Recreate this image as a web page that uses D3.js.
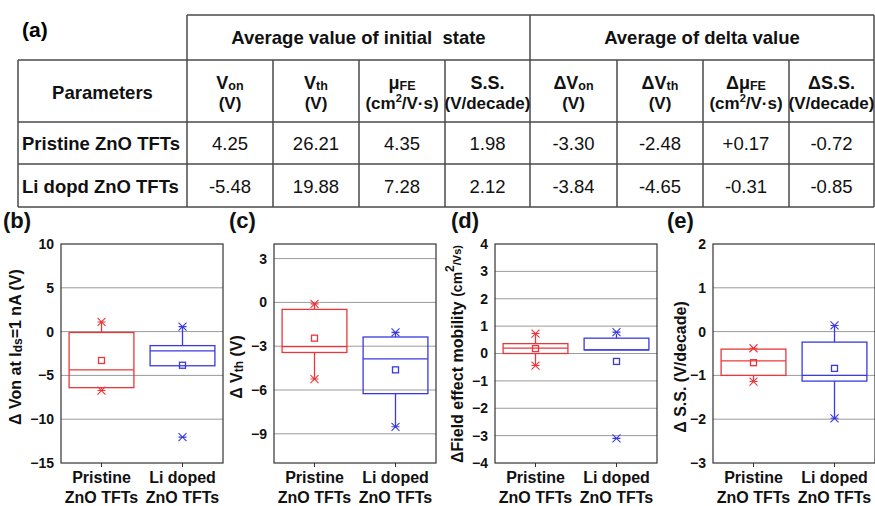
<!DOCTYPE html>
<html>
<head>
<meta charset="utf-8">
<script src="https://cdn.jsdelivr.net/npm/d3@7"></script>
<style>
body { margin: 0; background: #fff; }
svg { display: block; font-family: "Liberation Sans", Arial, sans-serif; }
</style>
</head>
<body>
<svg id="fig" width="875" height="506"></svg>
<script>
// ---- table data (a) ----
var groupHeads = ["Average value of initial  state", "Average of delta value"];
var colHeads = [
	["V", "on", "(V)"], ["V", "th", "(V)"], ["\u03bc", "FE", "cm2"], ["S.S.", "", "(V/decade)"],
	["\u0394V", "on", "(V)"], ["\u0394V", "th", "(V)"], ["\u0394\u03bc", "FE", "cm2"], ["\u0394S.S.", "", "(V/decade)"]
];
var rowNames = ["Pristine ZnO TFTs", "Li dopd ZnO TFTs"];
var rowValues = [
	["4.25", "26.21", "4.35", "1.98", "-3.30", "-2.48", "+0.17", "-0.72"],
	["-5.48", "19.88", "7.28", "2.12", "-3.84", "-4.65", "-0.31", "-0.85"]
];

// ---- box plot data (b)-(e) ----
var categories = ["Pristine ZnO TFTs", "Li doped ZnO TFTs"];
// each: q1, median, q3, whisker low, whisker high, mean, star markers (min/max/outliers)
var vonBoxes = [
	{q1: -6.4, med: -4.37, q3: -0.1, lo: -6.6, hi: 1.1, mean: -3.3, stars: [1.1, -6.73]},
	{q1: -3.9, med: -2.2, q3: -1.6, lo: -3.9, hi: 0.57, mean: -3.84, stars: [0.57, -12.05]}
];
var vthBoxes = [
	{q1: -3.43, med: -3.03, q3: -0.48, lo: -5.25, hi: -0.1, mean: -2.45, stars: [-0.1, -5.25]},
	{q1: -6.25, med: -3.87, q3: -2.37, lo: -8.52, hi: -2.05, mean: -4.62, stars: [-2.05, -8.52]}
];
var mobBoxes = [
	{q1: 0.0, med: 0.2, q3: 0.36, lo: -0.44, hi: 0.73, mean: 0.18, stars: [0.73, -0.44]},
	{q1: 0.13, med: 0.13, q3: 0.56, lo: 0.13, hi: 0.72, mean: -0.29, stars: [0.78, -3.1]}
];
var ssBoxes = [
	{q1: -1.0, med: -0.67, q3: -0.4, lo: -1.14, hi: -0.38, mean: -0.71, stars: [-0.38, -1.14]},
	{q1: -1.13, med: -1.0, q3: -0.24, lo: -1.98, hi: 0.14, mean: -0.84, stars: [0.14, -1.98]}
];
var vonTicks = [10, 5, 0, -5, -10, -15];
var vthTicks = [3, 0, -3, -6, -9];
var mobTicks = [4, 3, 2, 1, 0, -1, -2, -3, -4];
var ssTicks = [2, 1, 0, -1, -2, -3];

var red = "#e8383c", blue = "#3a3ae0";
var colors = [red, blue];

var svg = d3.select("#fig");

// ================= table =================
var tbl = svg.append("g").attr("class", "table");
var colX = [18, 187, 273, 359, 445, 530, 617, 703, 789, 874];
var rowY = [15, 60, 122, 164, 207];
var lineColor = "#4a4a4a";

function hline(x1, x2, y) {
	tbl.append("line").attr("x1", x1).attr("x2", x2).attr("y1", y).attr("y2", y)
		.attr("stroke", lineColor).attr("stroke-width", 1.5);
}
function vline(x, y1, y2) {
	tbl.append("line").attr("x1", x).attr("x2", x).attr("y1", y1).attr("y2", y2)
		.attr("stroke", lineColor).attr("stroke-width", 1.5);
}
hline(colX[1], colX[9], rowY[0]);
for (var i = 1; i < rowY.length; i++) hline(colX[0], colX[9], rowY[i]);
vline(colX[0], rowY[1], rowY[4]);
vline(colX[1], rowY[0], rowY[4]);
vline(colX[5], rowY[0], rowY[4]);
vline(colX[9], rowY[0], rowY[4]);
[2, 3, 4, 6, 7, 8].forEach(function(c) { vline(colX[c], rowY[1], rowY[4]); });

svg.append("text").attr("x", 22).attr("y", 37).attr("font-size", 21).attr("font-weight", "bold").text("(a)");

groupHeads.forEach(function(h, i) {
	var x0 = colX[1 + i * 4], x1 = colX[5 + i * 4];
	tbl.append("text").attr("x", (x0 + x1) / 2).attr("y", 44)
		.attr("text-anchor", "middle").attr("font-size", 18.5).attr("font-weight", "bold")
		.attr("fill", "#111").attr("xml:space", "preserve").style("white-space", "pre").text(h);
});
tbl.append("text").attr("x", (colX[0] + colX[1]) / 2).attr("y", 99)
	.attr("text-anchor", "middle").attr("font-size", 18.5).attr("font-weight", "bold")
	.attr("fill", "#111").text("Parameters");

colHeads.forEach(function(h, i) {
	var cx = (colX[i + 1] + colX[i + 2]) / 2;
	var t1 = tbl.append("text").attr("x", cx).attr("y", 89)
		.attr("text-anchor", "middle").attr("font-size", 18).attr("font-weight", "bold").attr("fill", "#111");
	t1.append("tspan").text(h[0]);
	if (h[1]) t1.append("tspan").attr("font-size", 12.5).attr("dy", 1).text(h[1]);
	var t2 = tbl.append("text").attr("x", cx).attr("y", 109)
		.attr("text-anchor", "middle").attr("font-size", 17).attr("font-weight", "bold").attr("fill", "#111");
	if (h[2] === "cm2") {
		t2.append("tspan").text("(cm");
		t2.append("tspan").attr("font-size", 11).attr("dy", -7).text("2");
		t2.append("tspan").attr("dy", 7).text("/V\u00b7s)");
	} else {
		t2.text(h[2]);
	}
});

rowNames.forEach(function(name, r) {
	var y = (rowY[r + 2] + rowY[r + 3]) / 2 + 7;
	tbl.append("text").attr("x", 22).attr("y", y)
		.attr("font-size", 18.5).attr("font-weight", "bold").attr("fill", "#111").text(name);
	rowValues[r].forEach(function(v, c) {
		tbl.append("text").attr("x", (colX[c + 1] + colX[c + 2]) / 2).attr("y", y)
			.attr("text-anchor", "middle").attr("font-size", 18.5).attr("fill", "#111").text(v);
	});
});

// ================= box plots =================
var plotW = 162, plotH = 219;

function boxPanel(opt) {
	var g = svg.append("g").attr("transform", "translate(" + opt.left + "," + opt.top + ")");
	var y = d3.scaleLinear().domain(opt.domain).range([plotH, 0]);
	var x = d3.scaleBand().domain(categories).range([0, plotW]).padding(0);
	var bw = x.bandwidth() * 0.8;

	// gridlines
	g.append("g").selectAll("line").data(opt.ticks.filter(function(t) {
		return t > opt.domain[0] && t < opt.domain[1];
	})).enter().append("line")
		.attr("x1", 0).attr("x2", plotW)
		.attr("y1", function(d) { return y(d); }).attr("y2", function(d) { return y(d); })
		.attr("stroke", "#9a9a9a").attr("stroke-width", 1);

	// y axis labels
	var ya = g.append("g").call(d3.axisLeft(y).tickValues(opt.ticks).tickFormat(d3.format("d"))
		.tickSize(0).tickPadding(7));
	ya.select(".domain").remove();
	ya.selectAll("text").attr("font-size", 14).attr("font-weight", "bold")
		.attr("font-family", "Liberation Sans, Arial, sans-serif").attr("fill", "#111");

	// x axis
	var xa = g.append("g").attr("transform", "translate(0," + plotH + ")")
		.call(d3.axisBottom(x).tickSize(4).tickFormat(""));
	xa.select(".domain").remove();
	xa.selectAll("line").attr("stroke", "#333");
	categories.forEach(function(c) {
		var words = c.split(" ");
		var t = g.append("text").attr("x", x(c) + x.bandwidth() / 2).attr("y", plotH + 20)
			.attr("text-anchor", "middle").attr("font-size", 16).attr("font-weight", "bold").attr("fill", "#111");
		t.append("tspan").attr("x", x(c) + x.bandwidth() / 2).text(words.slice(0, words.length - 2).join(" "));
		t.append("tspan").attr("x", x(c) + x.bandwidth() / 2).attr("dy", 20).text(words.slice(-2).join(" "));
	});

	// frame
	g.append("rect").attr("width", plotW).attr("height", plotH)
		.attr("fill", "none").attr("stroke", "#333").attr("stroke-width", 1.2);

	// boxes
	opt.data.forEach(function(d, i) {
		var cx = x(categories[i]) + x.bandwidth() / 2;
		var col = colors[i];
		var bg = g.append("g").attr("stroke", col).attr("fill", "none").attr("stroke-width", 1.3);
		if (d.hi > d.q3) bg.append("line").attr("x1", cx).attr("x2", cx).attr("y1", y(d.q3)).attr("y2", y(d.hi));
		if (d.lo < d.q1) bg.append("line").attr("x1", cx).attr("x2", cx).attr("y1", y(d.q1)).attr("y2", y(d.lo));
		bg.append("rect").attr("x", cx - bw / 2).attr("width", bw)
			.attr("y", y(d.q3)).attr("height", y(d.q1) - y(d.q3));
		bg.append("line").attr("x1", cx - bw / 2).attr("x2", cx + bw / 2)
			.attr("y1", y(d.med)).attr("y2", y(d.med));
		bg.append("rect").attr("x", cx - 3).attr("y", y(d.mean) - 3).attr("width", 6).attr("height", 6);
		d.stars.forEach(function(s) {
			var sy = y(s), r = 4;
			bg.append("path").attr("stroke-width", 1.1)
				.attr("d", "M" + (cx - r) + "," + (sy - r) + "L" + (cx + r) + "," + (sy + r) +
					"M" + (cx - r) + "," + (sy + r) + "L" + (cx + r) + "," + (sy - r) +
					"M" + (cx - r) + "," + sy + "L" + (cx + r) + "," + sy);
		});
	});

	// panel label
	svg.append("text").attr("x", opt.labelX).attr("y", 228).attr("font-size", 22)
		.attr("font-weight", "bold").attr("fill", "#111").text(opt.label);

	// y title
	var tt = svg.append("text")
		.attr("transform", "translate(" + opt.titleX + "," + opt.titleY + ") rotate(-90)")
		.attr("text-anchor", "middle").attr("dominant-baseline", "central")
		.attr("font-size", 16).attr("font-weight", "bold").attr("fill", "#111");
	opt.title(tt);
}

boxPanel({
	left: 61, top: 244, domain: [-15, 10], ticks: vonTicks, data: vonBoxes,
	label: "(b)", labelX: 3, titleX: 15, titleY: 347,
	title: function(t) {
		t.append("tspan").text("\u0394 Von at I");
		t.append("tspan").attr("font-size", 12).attr("dy", 3).text("ds");
		t.append("tspan").attr("dy", -3).text("=1 nA (V)");
	}
});
boxPanel({
	left: 274, top: 244, domain: [-11, 4], ticks: vthTicks, data: vthBoxes,
	label: "(c)", labelX: 229, titleX: 236, titleY: 367,
	title: function(t) {
		t.append("tspan").text("\u0394 V");
		t.append("tspan").attr("font-size", 12).attr("dy", 3).text("th");
		t.append("tspan").attr("dy", -3).text(" (V)");
	}
});
boxPanel({
	left: 495, top: 244, domain: [-4, 4], ticks: mobTicks, data: mobBoxes,
	label: "(d)", labelX: 451, titleX: 457, titleY: 354,
	title: function(t) {
		t.append("tspan").text("\u0394Field effect mobility ");
		t.append("tspan").attr("font-size", 14).text("(cm");
		t.append("tspan").attr("font-size", 12).attr("dy", -7).text("2");
		t.append("tspan").attr("font-size", 11).attr("dy", 7).text("/Vs)");
	}
});
boxPanel({
	left: 713, top: 244, domain: [-3, 2], ticks: ssTicks, data: ssBoxes,
	label: "(e)", labelX: 667, titleX: 680, titleY: 367,
	title: function(t) {
		t.text("\u0394 S.S. (V/decade)");
	}
});
</script>
</body>
</html>
